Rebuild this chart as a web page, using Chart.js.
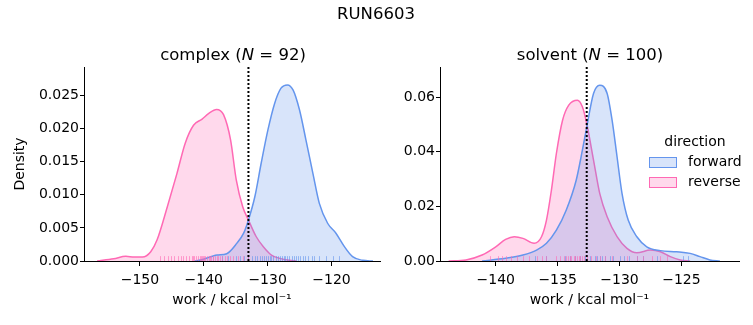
<!DOCTYPE html>
<html>
<head>
<meta charset="utf-8">
<script src="https://cdn.jsdelivr.net/npm/chart.js@4.4.1/dist/chart.umd.min.js"></script>
<style>
body{margin:0;background:#fff;font-family:"DejaVu Sans",sans-serif;color:#000}
#wrap{position:relative;width:753px;height:325px;overflow:hidden}
canvas{position:absolute;left:0;top:0}
.t{position:absolute;white-space:nowrap;transform:translate(-50%,-50%);font-size:16.5px}
#legend{position:absolute;left:649px;top:133px;font-size:14px}
#legend .hd{position:absolute;left:46px;top:8px;transform:translate(-50%,-50%);white-space:nowrap}
#legend .row{position:absolute;left:0;white-space:nowrap}
#legend .sw{position:absolute;left:0;width:26px;height:9px;border:1px solid}
#legend .lb{position:absolute;left:39px;top:-4px}
</style>
</head>
<body>
<div id="wrap">
  <canvas id="cx" width="753" height="325"></canvas>
  <canvas id="sv" width="753" height="325"></canvas>
  <div class="t" style="left:376px;top:13px">RUN6603</div>
  <div class="t" style="left:233px;top:54px">complex (<i>N</i> = 92)</div>
  <div class="t" style="left:590px;top:54px">solvent (<i>N</i> = 100)</div>
  <div id="legend">
    <div class="hd">direction</div>
    <div class="row" style="top:24px"><span class="sw" style="background:rgba(100,149,237,0.25);border-color:#6495ed"></span><span class="lb">forward</span></div>
    <div class="row" style="top:44px"><span class="sw" style="background:rgba(255,105,180,0.25);border-color:#ff69b4"></span><span class="lb">reverse</span></div>
  </div>
</div>
<script>
// work distributions (kde curves), complex leg
const complexFwdX=[-141.4,-140.5,-137.9,-136.4,-134.8,-133.75,-133.0,-132.0,-131.0,-129.95,-128.9,-127.9,-126.9,-126.0,-125.0,-124.0,-122.9,-121.9,-120.6,-119.3,-118.0,-116.7,-115.1,-113.5];
const complexFwdY=[0,0.00015,0.0009,0.0011,0.0027,0.0042,0.0062,0.0097,0.0148,0.0198,0.0238,0.0261,0.0266,0.0258,0.0228,0.0183,0.0132,0.0087,0.0057,0.0042,0.0022,0.00065,0.0001,0];
const complexRevX=[-156.7,-154.1,-152.2,-150.9,-149.6,-148.3,-147.3,-145.7,-144.2,-142.9,-141.6,-140.3,-139.2,-138.0,-136.9,-135.8,-134.9,-133.9,-133.0,-131.8,-130.7,-129.4,-128.1,-126.6,-125.5];
const complexRevY=[0,0.00035,0.0007,0.0006,0.0006,0.0014,0.0032,0.0082,0.0132,0.0178,0.0205,0.0214,0.0223,0.0229,0.0221,0.0183,0.0122,0.0082,0.0062,0.0037,0.0022,0.0009,0.0004,0.0001,0];
// solvent leg
const solventFwdX=[-141.1,-139.2,-137.8,-136.7,-135.9,-135.1,-134.3,-133.5,-133.0,-132.65,-132.1,-131.6,-131.0,-130.6,-130.2,-129.8,-129.3,-128.6,-127.8,-126.7,-125.4,-124.3,-123.5,-122.7,-121.9];
const solventFwdY=[0,0.001,0.0022,0.004,0.0065,0.0113,0.0187,0.0296,0.0406,0.049,0.0614,0.0644,0.0614,0.0516,0.0382,0.0248,0.015,0.0089,0.0052,0.0038,0.0034,0.0028,0.0016,0.0004,0];
const solventRevX=[-143.8,-142.4,-141.1,-140.0,-139.2,-138.5,-137.8,-136.9,-136.3,-135.9,-135.5,-135.1,-134.6,-134.1,-133.4,-133.0,-132.65,-132.1,-131.6,-131.0,-130.2,-129.4,-128.6,-127.5,-126.7,-125.9,-125.1,-124.3];
const solventRevY=[0,0.0004,0.0022,0.0052,0.0079,0.0089,0.0083,0.0065,0.0089,0.015,0.026,0.0394,0.0516,0.0571,0.0589,0.0565,0.0504,0.037,0.0248,0.0162,0.0089,0.0046,0.003,0.004,0.0034,0.0016,0.0004,0];

// individual work values (rug)
const complexFwdRug=[-137.2,-136.25,-135.0,-134.4,-133.75,-133.1,-132.5,-132.0,-131.6,-131.25,-130.9,-130.6,-130.3,-130.0,-129.7,-129.4,-129.1,-128.75,-128.4,-128.1,-127.8,-127.5,-127.2,-126.9,-126.6,-126.25,-125.9,-125.6,-125.3,-125.0,-124.5,-124.1,-123.6,-123.1,-122.7,-121.9,-120.8,-119.8,-118.75];
const complexRevRug=[-146.9,-146.25,-145.6,-145.2,-144.7,-144.0,-143.5,-143.2,-142.8,-142.3,-141.9,-141.7,-141.5,-141.25,-140.9,-140.6,-140.4,-140.2,-140.1,-139.9,-139.8,-139.5,-139.2,-139.0,-138.8,-138.6,-138.5,-138.3,-138.0,-137.8,-137.5,-137.2,-136.7,-136.4,-135.9,-135.4,-134.6,-133.9,-133.1];
const solventFwdRug=[-136.8,-135.9,-134.4,-134.0,-133.6,-133.2,-132.8,-132.4,-132.0,-131.8,-131.6,-131.4,-131.2,-130.8,-130.5,-130.0,-129.6,-129.2,-128.6,-128.1,-127.0,-124.85,-124.45];
const solventRevRug=[-140.44,-139.8,-139.5,-139.2,-138.8,-138.3,-137.8,-137.35,-136.7,-136.3,-135.9,-135.1,-134.8,-134.5,-134.3,-134.2,-134.0,-133.9,-133.7,-133.6,-133.45,-133.3,-133.2,-133.0,-132.9,-132.6,-132.3,-131.9,-131.6,-131.2,-130.6,-129.4,-128.6,-128.1,-127.4,-126.7,-126.2];

// mean work marker per leg
const complexSplit=-133.0;
const solventSplit=-132.65;

const complexXTicks=[-150,-140,-130,-120];
const complexYTicks=[0,0.005,0.01,0.015,0.02,0.025];
const solventXTicks=[-140,-135,-130,-125];
const solventYTicks=[0,0.02,0.04,0.06];

const BLUE='#6495ed',PINK='#ff69b4';
const FONT='"DejaVu Sans", sans-serif';

const overlay={id:'overlay',afterDatasetsDraw(c,args,o){
  const {ctx,chartArea:a}=c,x=c.scales.x;
  const h=(a.bottom-a.top)*0.025;
  ctx.save();
  ctx.globalAlpha=0.6;ctx.lineWidth=1;
  o.rugs.forEach(r=>{
    ctx.strokeStyle=r.color;
    r.data.forEach(v=>{
      const px=Math.round(x.getPixelForValue(v))+0.5;
      ctx.beginPath();ctx.moveTo(px,a.bottom);ctx.lineTo(px,a.bottom-h);ctx.stroke();
    });
  });
  ctx.globalAlpha=1;
  const sx=x.getPixelForValue(o.split);
  ctx.strokeStyle='#000';ctx.lineWidth=2;ctx.setLineDash([2,2]);
  ctx.beginPath();ctx.moveTo(sx,a.top);ctx.lineTo(sx,a.bottom);ctx.stroke();
  ctx.restore();
}};

const pts=(xs,ys)=>xs.map((v,i)=>({x:v,y:ys[i]}));
const kde=(xs,ys,col,fill)=>({data:pts(xs,ys),borderColor:col,backgroundColor:fill,borderWidth:1.5,fill:'origin',pointRadius:0,cubicInterpolationMode:'monotone'});
const minus=v=>v<0?'\u2212'+Math.abs(v):String(v);

function panel(id,p){
  return new Chart(document.getElementById(id),{
    type:'line',
    data:{datasets:[
      kde(p.fx,p.fy,BLUE,'rgba(100,149,237,0.25)'),
      kde(p.rx,p.ry,PINK,'rgba(255,105,180,0.25)')
    ]},
    options:{
      responsive:false,devicePixelRatio:1,animation:false,
      layout:{padding:p.pad},
      plugins:{legend:{display:false},tooltip:{enabled:false},
        overlay:{split:p.split,rugs:[{data:p.fr,color:BLUE},{data:p.rr,color:PINK}]}},
      scales:{
        x:{type:'linear',min:p.xr[0],max:p.xr[1],
          afterBuildTicks:s=>{s.ticks=p.xt.map(v=>({value:v}))},
          afterFit:s=>{s.height=64},
          ticks:{autoSkip:false,maxRotation:0,color:'#000',padding:6,font:{family:FONT,size:14},callback:minus},
          grid:{drawOnChartArea:false,tickLength:5,tickColor:'#000'},
          border:{color:'#000',width:1},
          title:{display:true,text:'work / kcal mol\u207b\u00b9',color:'#000',font:{family:FONT,size:14},padding:{top:0,bottom:16}}},
        y:{min:0,max:p.ymax,
          afterBuildTicks:s=>{s.ticks=p.yt.map(v=>({value:v}))},
          afterFit:s=>{s.width=p.yw},
          ticks:{color:'#000',padding:1,font:{family:FONT,size:14},callback:v=>v.toFixed(p.dp)},
          grid:{drawOnChartArea:false,tickLength:4,tickColor:'#000'},
          border:{color:'#000',width:1},
          title:{display:p.ytitle,text:'Density',color:'#000',font:{family:FONT,size:14},padding:{top:12,bottom:0}}}
      }
    },
    plugins:[overlay]
  });
}

panel('cx',{fx:complexFwdX,fy:complexFwdY,rx:complexRevX,ry:complexRevY,fr:complexFwdRug,rr:complexRevRug,
  split:complexSplit,xr:[-158.75,-112.4],ymax:0.0293,xt:complexXTicks,yt:complexYTicks,dp:3,
  yw:84,ytitle:true,pad:{left:0,right:373,top:67,bottom:0}});
panel('sv',{fx:solventFwdX,fy:solventFwdY,rx:solventRevX,ry:solventRevY,fr:solventFwdRug,rr:solventRevRug,
  split:solventSplit,xr:[-144.5,-120.35],ymax:0.0711,xt:solventXTicks,yt:solventYTicks,dp:2,
  yw:60,ytitle:false,pad:{left:380,right:14,top:67,bottom:0}});
</script>
</body>
</html>
